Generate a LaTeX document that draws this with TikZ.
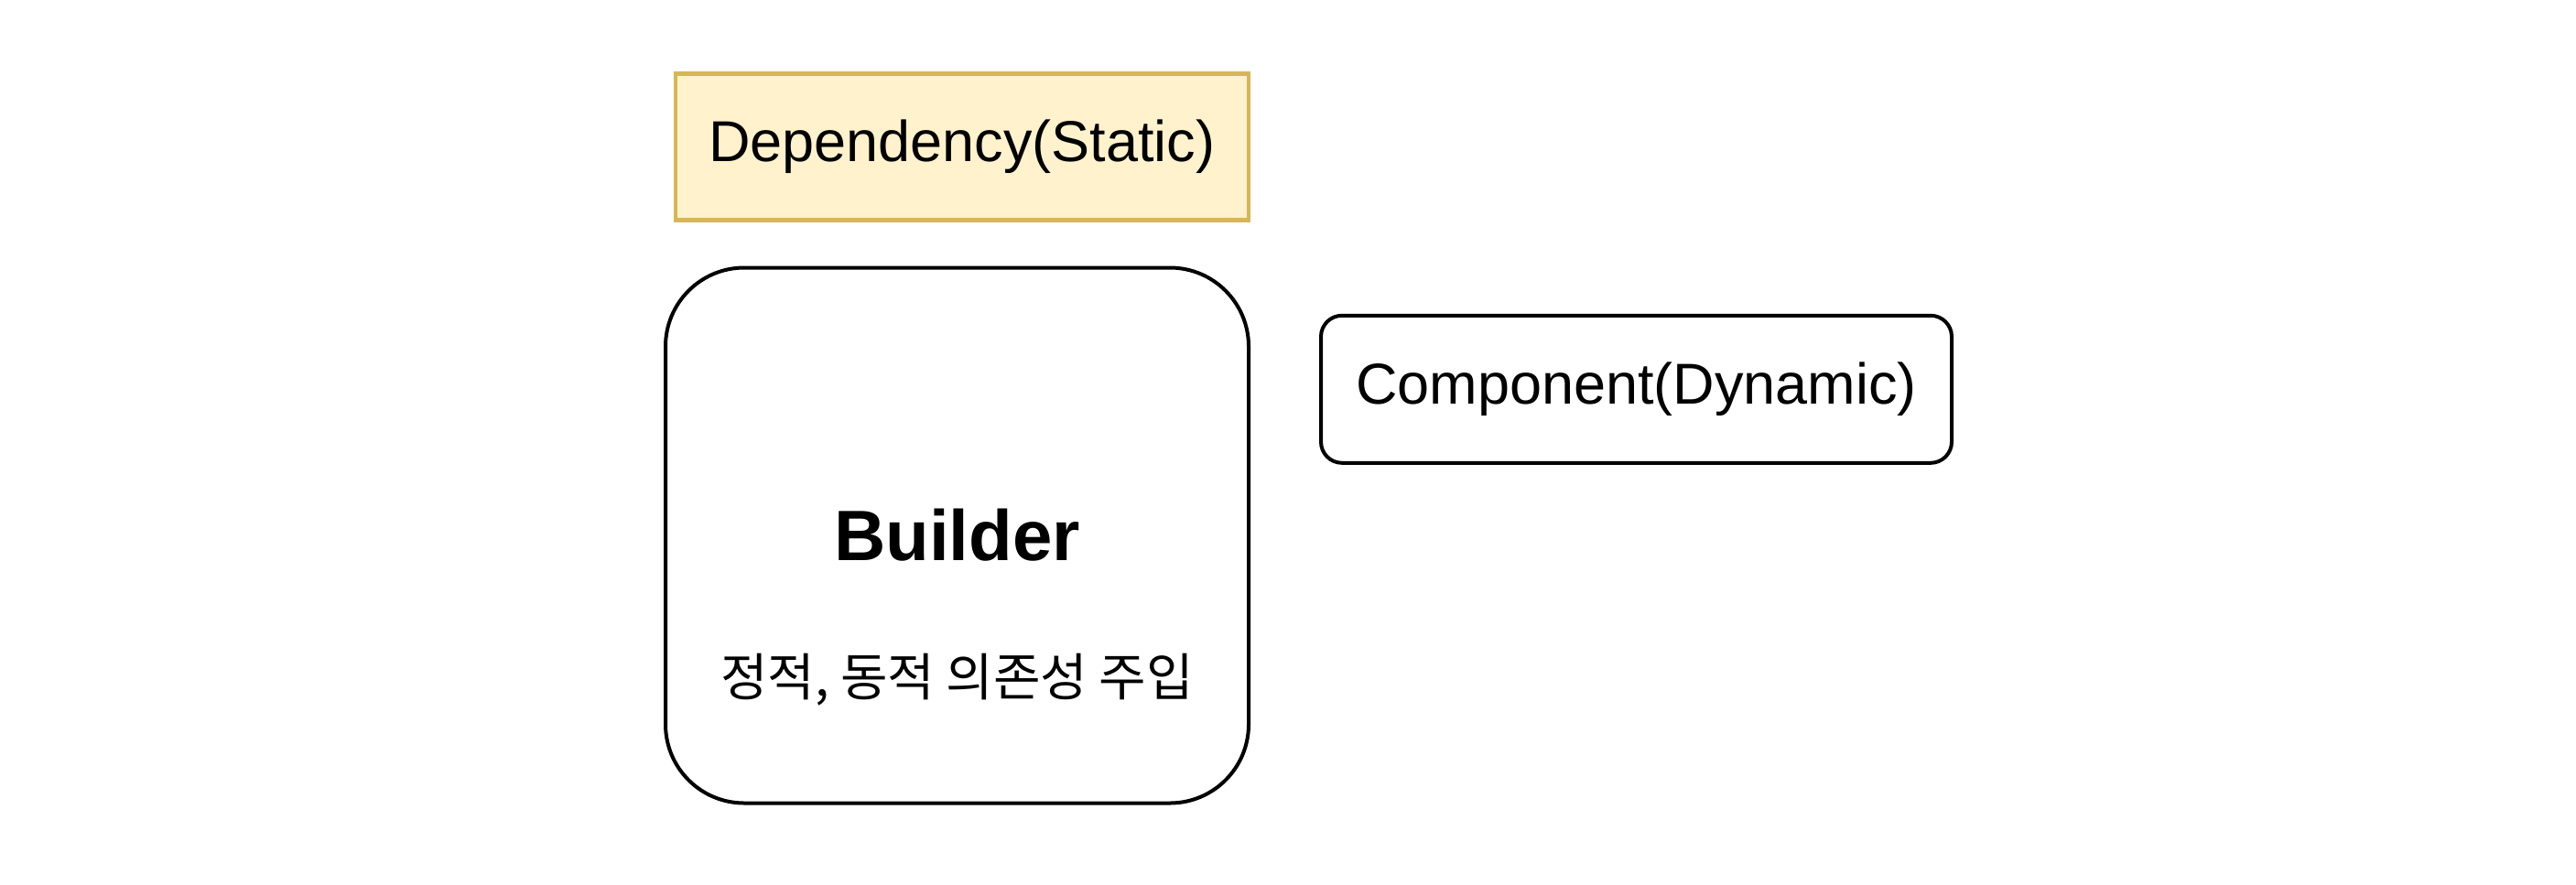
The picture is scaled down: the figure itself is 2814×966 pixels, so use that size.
\documentclass[tikz,border=0pt]{standalone}
\usepackage{fontspec}
\setmainfont{Liberation Sans}
\newfontfamily\krfont{Noto Sans CJK KR}
\definecolor{depfill}{HTML}{FFF2CC}
\definecolor{depline}{HTML}{D6B656}
\begin{document}
\begin{tikzpicture}[x=0.5pt,y=-0.5pt]
\tikzstyle{plainbox} = [shape = rectangle,draw = black,line width = 2pt,inner sep=0pt]
\tikzstyle{label} = [inner sep=0pt,font=\fontsize{31.5}{36}\selectfont]

\useasboundingbox[fill=white] (0,0) rectangle (2814,966);

\node[plainbox, fill=depfill, draw=depline, line width=2.2pt, minimum width=313pt, minimum height=80pt, label] (dep) at (1050.8,160.6) {Dependency(Static)};

\node[plainbox, rounded corners=43pt, minimum width=318.5pt, minimum height=292.5pt] (builder) at (1045.5,585) {};

\node[inner sep=0pt, font=\fontsize{39}{44}\selectfont\bfseries] (buildertitle) at (1045.5,585) {Builder};

\node[inner sep=0pt, font=\krfont\fontsize{28}{33}\selectfont] (buildertext) at (1045.5,743) {정적, 동적 의존성 주입};

\node[plainbox, rounded corners=11.5pt, minimum width=344.5pt, minimum height=80.5pt, label] (comp) at (1787.5,425.3) {Component(Dynamic)};

\end{tikzpicture}
\end{document}
